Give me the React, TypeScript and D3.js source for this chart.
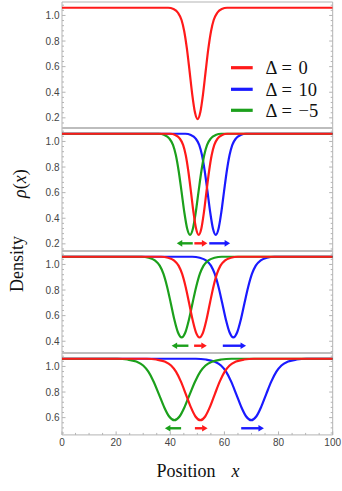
import React, { useEffect } from "react";
import * as d3 from "d3";

// ---------- DATA ----------
const xTicks = [0, 20, 40, 60, 80, 100];

const p1Ticks = [0.2, 0.4, 0.6, 0.8, 1.0];
const p2Ticks = [0.2, 0.4, 0.6, 0.8, 1.0];
const p3Ticks = [0.4, 0.6, 0.8, 1.0];
const p4Ticks = [0.6, 0.8, 1.0];

// density profile values, shared by the curves of one panel
const p1Rho = [1.06, 1.06, 1.05, 1.021, 0.964, 0.877, 0.74, 0.564, 0.382, 0.243, 0.19, 0.243, 0.382, 0.564, 0.74, 0.877, 0.964, 1.021, 1.05, 1.06, 1.06];
const p2Rho = [1.06, 1.06, 1.05, 1.024, 0.973, 0.894, 0.769, 0.61, 0.445, 0.318, 0.27, 0.318, 0.445, 0.61, 0.769, 0.894, 0.973, 1.024, 1.05, 1.06, 1.06];
const p3Rho = [1.06, 1.06, 1.052, 1.032, 0.991, 0.928, 0.828, 0.701, 0.569, 0.468, 0.43, 0.468, 0.569, 0.701, 0.828, 0.928, 0.991, 1.032, 1.052, 1.06, 1.06];
const p4Rho = [1.06, 1.06, 1.054, 1.038, 1.007, 0.959, 0.883, 0.786, 0.686, 0.609, 0.58, 0.609, 0.686, 0.786, 0.883, 0.959, 1.007, 1.038, 1.054, 1.06, 1.06];

// positions x for each curve
const p1RedX = [0, 39.21, 41.19, 42.84, 44.16, 45.15, 46.14, 47.13, 48.12, 49.11, 50.1, 51.09, 52.08, 53.07, 54.06, 55.05, 56.04, 57.36, 59.01, 60.99, 100];

const p2RedX = [0, 39.94, 41.86, 43.46, 44.74, 45.7, 46.66, 47.62, 48.58, 49.54, 50.5, 51.46, 52.42, 53.38, 54.34, 55.3, 56.26, 57.54, 59.14, 61.06, 100];
const p2GreenX = [0, 35.75, 37.85, 39.6, 41.0, 42.05, 43.1, 44.15, 45.2, 46.25, 47.3, 48.35, 49.4, 50.45, 51.5, 52.55, 53.6, 55.0, 56.75, 58.85, 100];
const p2BlueX = [0, 45.58, 47.62, 49.32, 50.68, 51.7, 52.72, 53.74, 54.76, 55.78, 56.8, 57.82, 58.84, 59.86, 60.88, 61.9, 62.92, 64.28, 65.98, 68.02, 100];

const p3RedX = [0, 36.61, 39.19, 41.34, 43.06, 44.35, 45.64, 46.93, 48.22, 49.51, 50.8, 52.09, 53.38, 54.67, 55.96, 57.25, 58.54, 60.26, 62.41, 64.99, 100];
const p3GreenX = [0, 29.35, 32.05, 34.3, 36.1, 37.45, 38.8, 40.15, 41.5, 42.85, 44.2, 45.55, 46.9, 48.25, 49.6, 50.95, 52.3, 54.1, 56.35, 59.05, 100];
const p3BlueX = [0, 48.12, 50.88, 53.18, 55.02, 56.4, 57.78, 59.16, 60.54, 61.92, 63.3, 64.68, 66.06, 67.44, 68.82, 70.2, 71.58, 73.42, 75.72, 78.48, 100];

const p4RedX = [0, 31.3, 34.9, 37.9, 40.3, 42.1, 43.9, 45.7, 47.5, 49.3, 51.1, 52.9, 54.7, 56.5, 58.3, 60.1, 61.9, 64.3, 67.3, 70.9, 100];
const p4GreenX = [0, 20.38, 24.22, 27.42, 29.98, 31.9, 33.82, 35.74, 37.66, 39.58, 41.5, 43.42, 45.34, 47.26, 49.18, 51.1, 53.02, 55.58, 58.78, 62.62, 100];
const p4BlueX = [0, 49.44, 53.16, 56.26, 58.74, 60.6, 62.46, 64.32, 66.18, 68.04, 69.9, 71.76, 73.62, 75.48, 77.34, 79.2, 81.06, 83.54, 86.64, 90.36, 100];

// arrows: [fromX, toX] at a density level
const p2Arrows = { level: 0.204, green: [48.3, 42.4], red: [48.9, 53.7], blue: [54.4, 62.1] };
const p3Arrows = { level: 0.365, green: [46.7, 40.5], red: [48.8, 53.5], blue: [59.4, 68.0] };
const p4Arrows = { level: 0.517, green: [44.0, 38.0], red: [49.1, 53.8], blue: [66.2, 74.6] };

const legendLabels = ["0", "10", "\u22125"];

// ---------- STYLE / LAYOUT ----------
const W = 342;
const H = 491;
const RED = "#ff1a1a";
const BLUE = "#1a1aff";
const GREEN = "#1ca01c";
const FRAME = "#b3b3b3";
const TICKTXT = "#454545";
const PX_PER_UNIT = 128;

const xScale = d3.scaleLinear().domain([0, 100]).range([62, 332.7]);

type Curve = { xs: number[]; rho: number[]; color: string };
type Panel = {
  top: number;
  lo: number;
  hi: number;
  ticks: number[];
  curves: Curve[];
  arrows?: { level: number; green: number[]; red: number[]; blue: number[] };
};

const panels: Panel[] = [
  { top: 2, lo: 0.12, hi: 1.105, ticks: p1Ticks, curves: [{ xs: p1RedX, rho: p1Rho, color: RED }] },
  {
    top: 128, lo: 0.145, hi: 1.105, ticks: p2Ticks, arrows: p2Arrows,
    curves: [
      { xs: p2BlueX, rho: p2Rho, color: BLUE },
      { xs: p2GreenX, rho: p2Rho, color: GREEN },
      { xs: p2RedX, rho: p2Rho, color: RED },
    ],
  },
  {
    top: 251, lo: 0.31, hi: 1.105, ticks: p3Ticks, arrows: p3Arrows,
    curves: [
      { xs: p3BlueX, rho: p3Rho, color: BLUE },
      { xs: p3GreenX, rho: p3Rho, color: GREEN },
      { xs: p3RedX, rho: p3Rho, color: RED },
    ],
  },
  {
    top: 353, lo: 0.465, hi: 1.105, ticks: p4Ticks, arrows: p4Arrows,
    curves: [
      { xs: p4BlueX, rho: p4Rho, color: BLUE },
      { xs: p4GreenX, rho: p4Rho, color: GREEN },
      { xs: p4RedX, rho: p4Rho, color: RED },
    ],
  },
];

function Arrow({ from, to, y, color }: { from: number; to: number; y: number; color: string }) {
  const x1 = xScale(from);
  const x2 = xScale(to);
  const dir = x2 > x1 ? 1 : -1;
  const headL = 5.5;
  const headH = 3.3;
  const base = x2 - dir * headL;
  return (
    <g>
      <line x1={x1} y1={y} x2={base + dir * 0.5} y2={y} stroke={color} strokeWidth={2.4} />
      <polygon points={`${x2},${y} ${base},${y - headH} ${base},${y + headH}`} fill={color} />
    </g>
  );
}

function PanelView({ p, idx }: { p: Panel; idx: number }) {
  const bottom = p.top + (p.hi - p.lo) * PX_PER_UNIT;
  const y = d3.scaleLinear().domain([p.lo, p.hi]).range([bottom, p.top]);
  const line = d3
    .line<[number, number]>()
    .x((d) => xScale(d[0]))
    .y((d) => y(d[1]))
    .curve(d3.curveMonotoneX);
  const minor = d3.range(Math.ceil(p.lo / 0.04) * 0.04, p.hi, 0.04).filter(
    (v) => !p.ticks.some((t) => Math.abs(t - v) < 1e-6)
  );
  const x0 = xScale(0);
  const x1 = xScale(100);
  const clipId = `clip${idx}`;
  return (
    <g>
      <defs>
        <clipPath id={clipId}>
          <rect x={x0} y={p.top} width={x1 - x0} height={bottom - p.top} />
        </clipPath>
      </defs>
      {/* frame */}
      <line x1={x0} y1={p.top} x2={x0} y2={bottom} stroke={FRAME} strokeWidth={1} />
      <line x1={x1} y1={p.top} x2={x1} y2={bottom} stroke={FRAME} strokeWidth={1} />
      <line
        x1={x0}
        y1={p.top}
        x2={x1}
        y2={p.top}
        stroke={idx === 0 ? FRAME : "#bdbdbd"}
        strokeWidth={idx === 0 ? 1 : 2}
      />
      {/* ticks */}
      {p.ticks.map((t) => (
        <g key={`t${t}`}>
          <line x1={x0} x2={x0 + 3.5} y1={y(t)} y2={y(t)} stroke={FRAME} />
          <line x1={x1} x2={x1 - 3.5} y1={y(t)} y2={y(t)} stroke={FRAME} />
          <text
            x={59.5}
            y={y(t)}
            dy="0.35em"
            textAnchor="end"
            fontFamily="Liberation Sans, Arial, sans-serif"
            fontSize={10}
            fill={TICKTXT}
          >
            {d3.format(".1f")(t)}
          </text>
        </g>
      ))}
      {minor.map((t) => (
        <g key={`m${t}`}>
          <line x1={x0} x2={x0 + 2} y1={y(t)} y2={y(t)} stroke={FRAME} />
          <line x1={x1} x2={x1 - 2} y1={y(t)} y2={y(t)} stroke={FRAME} />
        </g>
      ))}
      {/* curves */}
      <g clipPath={`url(#${clipId})`}>
        {p.curves.map((c, i) => (
          <path
            key={i}
            d={line(c.xs.map((x, k) => [x, c.rho[k]] as [number, number])) || ""}
            fill="none"
            stroke={c.color}
            strokeWidth={2.2}
            strokeLinejoin="round"
          />
        ))}
      </g>
      {p.arrows && (
        <g>
          <Arrow from={p.arrows.green[0]} to={p.arrows.green[1]} y={y(p.arrows.level)} color={GREEN} />
          <Arrow from={p.arrows.red[0]} to={p.arrows.red[1]} y={y(p.arrows.level)} color={RED} />
          <Arrow from={p.arrows.blue[0]} to={p.arrows.blue[1]} y={y(p.arrows.level)} color={BLUE} />
        </g>
      )}
    </g>
  );
}

export default function App() {
  useEffect(() => {
    document.body.style.margin = "0";
  }, []);
  const last = panels[panels.length - 1];
  const axisY = last.top + (last.hi - last.lo) * PX_PER_UNIT;
  const xMinor = d3.range(0, 101, 5).filter((v) => v % 20 !== 0);
  const legendColors = [RED, BLUE, GREEN];
  const legendY = [67.7, 89.3, 110.3];
  const serif = "Liberation Serif, Times New Roman, serif";
  return (
    <svg
      width={W}
      height={H}
      viewBox={`0 0 ${W} ${H}`}
      style={{ position: "absolute", left: 0, top: 0, background: "#fff" }}
    >
      <rect x={0} y={0} width={W} height={H} fill="#fff" />
      {panels.map((p, i) => (
        <PanelView key={i} p={p} idx={i} />
      ))}
      {/* bottom axis */}
      <line x1={xScale(0)} x2={xScale(100)} y1={axisY} y2={axisY} stroke={FRAME} />
      {xTicks.map((t) => (
        <g key={`x${t}`}>
          <line x1={xScale(t)} x2={xScale(t)} y1={axisY} y2={axisY - 3.5} stroke={FRAME} />
          <text
            x={xScale(t)}
            y={axisY + 11}
            textAnchor="middle"
            fontFamily="Liberation Sans, Arial, sans-serif"
            fontSize={10}
            fill={TICKTXT}
          >
            {t}
          </text>
        </g>
      ))}
      {xMinor.map((t) => (
        <line key={`xm${t}`} x1={xScale(t)} x2={xScale(t)} y1={axisY} y2={axisY - 2} stroke={FRAME} />
      ))}
      {/* legend */}
      {legendLabels.map((lab, i) => (
        <g key={`lg${i}`}>
          <line x1={231} x2={252.7} y1={legendY[i]} y2={legendY[i]} stroke={legendColors[i]} strokeWidth={3.2} />
          <text y={legendY[i] + 6.3} fontFamily={serif} fontSize={18.5} fill="#111">
            <tspan x={265.5}>Δ</tspan>
            <tspan x={281.5}>=</tspan>
            <tspan x={298.5}>{lab}</tspan>
          </text>
        </g>
      ))}
      {/* axis titles */}
      <text x={156.5} y={477.3} fontFamily={serif} fontSize={18} fill="#111">
        Position
      </text>
      <text x={231.5} y={477.3} fontFamily={serif} fontSize={18} fontStyle="italic" fill="#111">
        x
      </text>
      <text transform="translate(23,292) rotate(-90)" fontFamily={serif} fontSize={18} fill="#111">
        Density
      </text>
      <text transform="translate(25.5,198) rotate(-90)" fontFamily={serif} fontSize={18} fill="#111">
        <tspan fontStyle="italic">ρ</tspan>
        <tspan>(</tspan>
        <tspan fontStyle="italic">x</tspan>
        <tspan>)</tspan>
      </text>
    </svg>
  );
}
